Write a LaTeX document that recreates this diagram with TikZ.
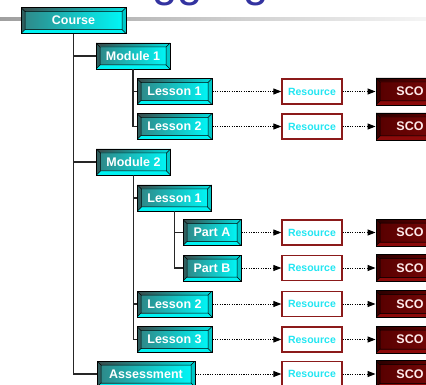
\documentclass[tikz,border=0pt]{standalone}
\usepackage{fontspec}
\setmainfont{Liberation Sans}
\usetikzlibrary{arrows.meta}
\definecolor{cyTopL}{HTML}{3A4A4A}
\definecolor{cyTopR}{HTML}{00E0E0}
\definecolor{cyLeft}{HTML}{2F5E5E}
\definecolor{cyBot}{HTML}{00F2F2}
\definecolor{cyRight}{HTML}{00C8C8}
\definecolor{cyFaceL}{HTML}{2E8A8A}
\definecolor{cyFaceR}{HTML}{00F6F6}
\definecolor{scTopL}{HTML}{2A0000}
\definecolor{scTopR}{HTML}{6E0000}
\definecolor{scLeft}{HTML}{3A0000}
\definecolor{scBot}{HTML}{8C0A0A}
\definecolor{scRight}{HTML}{700000}
\definecolor{scFaceL}{HTML}{580000}
\definecolor{scFaceR}{HTML}{780808}
\definecolor{resRed}{HTML}{8B1A1A}
\definecolor{resCyan}{HTML}{22E6F2}
\definecolor{titleBlue}{HTML}{3333A0}
\newcommand\bevelpic[7]{%
  \coordinate (bsw) at (path picture bounding box.south west);
  \coordinate (bne) at (path picture bounding box.north east);
  \coordinate (bnw) at (bsw |- bne);
  \coordinate (bse) at (bne |- bsw);
  \coordinate (isw) at ([shift={(4pt,4pt)}]bsw);
  \coordinate (ine) at ([shift={(-4pt,-4pt)}]bne);
  \coordinate (inw) at (isw |- ine);
  \coordinate (ise) at (ine |- isw);
  \shade[left color=#1, right color=#2] (bnw) -- (bne) -- (ine) -- (inw) -- cycle;
  \fill[#3] (bnw) -- (inw) -- (isw) -- (bsw) -- cycle;
  \fill[#4] (bsw) -- (isw) -- (ise) -- (bse) -- cycle;
  \fill[#5] (bse) -- (ise) -- (ine) -- (bne) -- cycle;
  \shade[left color=#6, right color=#7] (isw) rectangle (ine);
  \draw[line width=0.5pt] (isw) rectangle (ine) (bsw) -- (isw) (bnw) -- (inw) (bne) -- (ine) (bse) -- (ise);
}
\tikzset{
  cybox/.style={rectangle, draw=black, line width=0.9pt, minimum height=26, inner sep=0pt,
    font=\bfseries\fontsize{12.5}{14}\selectfont, text=white,
    path picture={\bevelpic{cyTopL}{cyTopR}{cyLeft}{cyBot}{cyRight}{cyFaceL}{cyFaceR}}},
  scobox/.style={rectangle, draw=black, line width=0.9pt, minimum height=27, minimum width=68, inner sep=0pt,
    font=\bfseries\fontsize{12.5}{14}\selectfont, text=white!92!red,
    path picture={\bevelpic{scTopL}{scTopR}{scLeft}{scBot}{scRight}{scFaceL}{scFaceR}}},
  resbox/.style={rectangle, draw=resRed, line width=1.3pt, fill=white, minimum width=60, minimum height=25,
    inner sep=0pt, font=\bfseries\fontsize{10.5}{12}\selectfont, text=resCyan},
  tree/.style={draw=black!85, line width=1.2pt},
  dotarr/.style={draw=black, line width=1pt, dash pattern=on 1.2pt off 1.2pt, -{Triangle[length=8pt,width=6pt]}},
}
\begin{document}
\begin{tikzpicture}[x=1pt,y=1pt]
\path[use as bounding box, clip] (0,0) rectangle (426,-385);
\node[anchor=base west, inner sep=0pt, text=titleBlue, font=\fontsize{45.5}{50}\selectfont] (title) at (122,3.8) {Aggregation};
\shade[left color=gray!75, right color=gray!8] (0,-18) rectangle (426,-21);
% tree nodes
\node[cybox, minimum width=105] (course) at (73.5,-20.5) {Course};
\node[cybox, minimum width=74] (m1) at (133,-56) {Module 1};
\node[cybox, minimum width=75] (l11) at (174.5,-91.5) {Lesson 1};
\node[cybox, minimum width=75] (l12) at (174.5,-126.5) {Lesson 2};
\node[cybox, minimum width=74] (m2) at (133.5,-162) {Module 2};
\node[cybox, minimum width=74] (l21) at (174.5,-198) {Lesson 1};
\node[cybox, minimum width=58] (pa) at (212,-232.5) {Part A};
\node[cybox, minimum width=58] (pb) at (212,-268) {Part B};
\node[cybox, minimum width=75] (l22) at (174.5,-304) {Lesson 2};
\node[cybox, minimum width=75] (l23) at (174.5,-339.5) {Lesson 3};
\node[cybox, minimum width=98] (as) at (146,-374) {Assessment};
% resources and SCOs
\foreach \n/\y in {1/-91.5, 2/-126.5, 3/-232.5, 4/-268, 5/-304, 6/-339.5, 7/-374} {
  \node[resbox] (r\n) at (312,\y) {Resource};
  \node[scobox] (s\n) at (410,\y) {SCO};
}
% tree connectors
\draw[tree] (course.south) |- (as.west);
\draw[tree] (course.south |- m1.west) -- (m1.west);
\draw[tree] (course.south |- m2.west) -- (m2.west);
\draw[tree] (m1.south) |- (l12.west);
\draw[tree] (m1.south |- l11.west) -- (l11.west);
\draw[tree] (m2.south) |- (l23.west);
\draw[tree] (m2.south |- l21.west) -- (l21.west);
\draw[tree] (m2.south |- l22.west) -- (l22.west);
\draw[tree] (l21.south) |- (pb.west);
\draw[tree] (l21.south |- pa.west) -- (pa.west);
% dotted arrows
\foreach \a/\n in {l11/1, l12/2, pa/3, pb/4, l22/5, l23/6, as/7} {
  \draw[dotarr] (\a.east) -- (r\n.west);
  \draw[dotarr] (r\n.east) -- (s\n.west);
}
\end{tikzpicture}
\end{document}
